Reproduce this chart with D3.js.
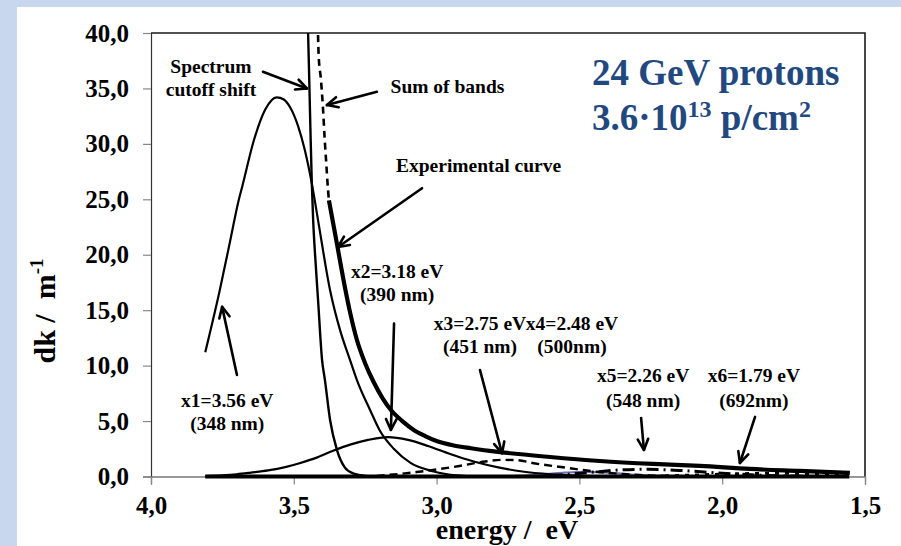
<!DOCTYPE html>
<html><head><meta charset="utf-8">
<script src="https://cdn.jsdelivr.net/npm/d3@7"></script>
<style>
html,body{margin:0;padding:0;background:#fff;overflow:hidden}
svg{display:block}
text{font-family:"Liberation Serif","Times New Roman",serif;font-weight:bold}
</style>
</head><body>
<svg id="chart" width="901" height="546"></svg>
<script>
// ---------- data (energy in eV, dk in 1/m) ----------
const xTickValues = [4.0, 3.5, 3.0, 2.5, 2.0, 1.5];
const xTickLabels = ["4,0", "3,5", "3,0", "2,5", "2,0", "1,5"];
const yTickValues = [0, 5, 10, 15, 20, 25, 30, 35, 40];
const yTickLabels = ["0,0", "5,0", "10,0", "15,0", "20,0", "25,0", "30,0", "35,0", "40,0"];

const bandX1 = [[3.81,11.2],[3.76,16.7],[3.72,21.6],[3.695,24.7],[3.68,26.2],[3.64,30.3],[3.60,33.1],[3.56,34.2],[3.535,34.0],[3.513,33.3],[3.485,31.6],[3.461,29.4],[3.436,26.3],[3.415,23.1],[3.373,16.8],[3.338,13.2],[3.303,10.5],[3.279,8.7],[3.233,6.0],[3.20,4.2],[3.15,2.5],[3.09,1.2],[3.01,0.45],[2.93,0.1],[2.85,0]];
const cutoffCurve = [[3.452,42],[3.447,37],[3.442,31.5],[3.437,26.5],[3.432,23],[3.426,20.2],[3.415,15.9],[3.401,10.5],[3.391,8.7],[3.373,5.1],[3.349,2.4],[3.321,0.8],[3.29,0.25],[3.25,0.05],[3.2,0]];
const sumOfBands = [[3.417,42],[3.413,38],[3.405,35.8],[3.398,33.3],[3.392,30.5],[3.387,28.5],[3.380,25.8],[3.376,24.6]];
const experimental = [[3.377,24.9],[3.349,21.0],[3.328,18.0],[3.303,14.8],[3.28,12.4],[3.25,10.2],[3.22,8.5],[3.19,7.1],[3.16,6.0],[3.12,5.0],[3.08,4.2],[3.04,3.65],[3.0,3.2],[2.94,2.8],[2.88,2.55],[2.778,2.2],[2.603,1.76],[2.428,1.40],[2.242,1.13],[2.078,0.95],[1.903,0.68],[1.728,0.50],[1.553,0.32]];
const bandX2 = [[3.81,0.03],[3.75,0.1],[3.70,0.2],[3.65,0.35],[3.59,0.55],[3.53,0.85],[3.48,1.2],[3.42,1.7],[3.36,2.35],[3.30,2.9],[3.24,3.3],[3.17,3.55],[3.10,3.3],[3.03,2.75],[2.95,2.0],[2.87,1.35],[2.78,0.8],[2.70,0.45],[2.60,0.2],[2.50,0.07],[2.40,0]];
const bandX3 = [[3.21,0.05],[3.07,0.4],[2.92,0.95],[2.83,1.35],[2.77,1.5],[2.72,1.48],[2.66,1.2],[2.54,0.77],[2.43,0.4],[2.29,0.13],[2.15,0.03]];
const bandX4 = [[2.75,0.02],[2.65,0.15],[2.55,0.35],[2.48,0.42],[2.40,0.35],[2.30,0.15],[2.20,0.03]];
const bandX5 = [[2.60,0.05],[2.45,0.4],[2.35,0.6],[2.26,0.65],[2.15,0.55],[2.00,0.3],[1.85,0.1],[1.70,0.02]];
const bandX6 = [[2.20,0.05],[2.00,0.2],[1.79,0.3],[1.65,0.22],[1.555,0.15]];
const zeroBands = [[3.81,0],[1.555,0]];

// annotations: [text lines], centre energy, baseline values
const labelTexts = [
  {lines:["Spectrum","cutoff shift"], e:3.79, v:[36.4,34.3]},
  {lines:["Sum of bands"], e:2.962, v:[34.6]},
  {lines:["Experimental curve"], e:2.853, v:[27.5]},
  {lines:["x2=3.18 eV","(390 nm)"], e:3.138, v:[17.9,15.8]},
  {lines:["x1=3.56 eV","(348 nm)"], e:3.733, v:[6.27,4.19]},
  {lines:["x3=2.75 eV","(451 nm)"], e:2.848, v:[13.2,11.1]},
  {lines:["x4=2.48 eV","(500nm)"], e:2.526, v:[13.2,11.1]},
  {lines:["x5=2.26 eV","(548 nm)"], e:2.277, v:[8.5,6.27]},
  {lines:["x6=1.79 eV","(692nm)"], e:1.889, v:[8.5,6.27]}
];
// arrows: from [e,v] to [e,v]
const arrowList = [
  [[3.608,36.5],[3.454,35.0]],
  [[3.209,34.7],[3.384,33.5]],
  [[3.051,26.0],[3.345,20.7]],
  [[3.149,13.8],[3.160,4.2]],
  [[3.699,9.15],[3.751,15.3]],
  [[2.848,9.6],[2.771,2.1]],
  [[2.284,5.28],[2.274,2.39]],
  [[1.885,5.37],[1.938,1.22]]
];

// ---------- drawing ----------
const svg = d3.select("#chart");
const W = 901, H = 546;
const L = 151, R = 865, T = 33, B = 476.5;

svg.append("rect").attr("width", W).attr("height", H).attr("fill", "#c8d6ee");
svg.append("rect").attr("x", 17).attr("y", 7).attr("width", W - 17).attr("height", H - 7).attr("fill", "#ffffff");

const x = d3.scaleLinear().domain([4.0, 1.5]).range([L, R]);
const y = d3.scaleLinear().domain([0, 40]).range([B, T]);

svg.append("defs").append("clipPath").attr("id", "plotclip")
  .append("rect").attr("x", L).attr("y", T).attr("width", R - L).attr("height", B - T + 3);

// frame (top + right)
svg.append("path").attr("d", `M${L},${T}H${R}V${B}`).attr("fill", "none")
  .attr("stroke", "#1a1a1a").attr("stroke-width", 1.6);

// axes
const yAxis = d3.axisLeft(y).tickValues(yTickValues).tickSize(8).tickPadding(14)
  .tickFormat((d, i) => yTickLabels[i]);
const gy = svg.append("g").attr("transform", `translate(${L},0)`).call(yAxis);
const xAxis = d3.axisBottom(x).tickValues(xTickValues).tickSize(8).tickPadding(13)
  .tickFormat((d, i) => xTickLabels[i]);
const gx = svg.append("g").attr("transform", `translate(0,${B})`).call(xAxis);
[gx, gy].forEach(g => {
  g.select(".domain").attr("stroke", "#333").attr("stroke-width", 1.2);
  g.selectAll(".tick line").attr("stroke", "#888").attr("stroke-width", 1.2);
  g.selectAll(".tick text").attr("fill", "#000").style("font-size", "25px")
    .style("font-family", '"Liberation Serif",serif').style("font-weight", "bold");
});
gx.selectAll(".tick text").attr("dy", "0.66em");

// axis titles
svg.append("text").attr("x", 507).attr("y", 539).attr("text-anchor", "middle")
  .style("font-size", "28px").style("white-space", "pre").attr("fill", "#000")
  .text("energy /  eV");
const yt = svg.append("text").attr("transform", "translate(55,311) rotate(-90)")
  .attr("text-anchor", "middle").style("font-size", "30px").style("white-space", "pre").attr("fill", "#000");
yt.append("tspan").text("dk /  m");
yt.append("tspan").attr("dy", -12).style("font-size", "19px").text("-1");

// curves
const line = d3.line().x(d => x(d[0])).y(d => y(d[1])).curve(d3.curveMonotoneX);
const plot = svg.append("g").attr("clip-path", "url(#plotclip)");
function drawCurve(data, opts) {
  plot.append("path").datum(data).attr("d", line).attr("fill", "none")
    .attr("stroke", opts.color || "#000").attr("stroke-width", opts.w || 2.2)
    .attr("stroke-dasharray", opts.dash || null)
    .attr("stroke-linejoin", "round").attr("stroke-linecap", opts.cap || "butt");
}
drawCurve(bandX4, {color: "#6d72b8", w: 2.2});
drawCurve(bandX6, {w: 3, dash: "4,6"});
drawCurve(bandX5, {w: 3, dash: "12,5,2,5"});
drawCurve(zeroBands, {w: 4});
drawCurve(bandX3, {w: 2.4, dash: "8,5"});
drawCurve(bandX2, {w: 2.2});
drawCurve(bandX1, {w: 2.2});
drawCurve(cutoffCurve, {w: 2.4});
drawCurve(sumOfBands, {w: 2.6, dash: "7,5"});
drawCurve(experimental, {w: 4.2});

// annotation texts
labelTexts.forEach(a => {
  a.lines.forEach((t, i) => {
    svg.append("text").attr("x", x(a.e)).attr("y", y(a.v[i])).attr("text-anchor", "middle")
      .style("font-size", "19.5px").attr("fill", "#000").text(t);
  });
});

// arrows
function arrow(p, q) {
  const x1 = x(p[0]), y1 = y(p[1]), x2 = x(q[0]), y2 = y(q[1]);
  const ang = Math.atan2(y2 - y1, x2 - x1), hl = 12, ha = 0.45;
  const g = svg.append("g").attr("stroke", "#000").attr("stroke-width", 2.6)
    .attr("fill", "none").attr("stroke-linecap", "round").attr("stroke-linejoin", "round");
  g.append("line").attr("x1", x1).attr("y1", y1).attr("x2", x2).attr("y2", y2);
  g.append("path").attr("d",
    `M${x2 - hl * Math.cos(ang - ha)},${y2 - hl * Math.sin(ang - ha)}L${x2},${y2}L${x2 - hl * Math.cos(ang + ha)},${y2 - hl * Math.sin(ang + ha)}`);
}
arrowList.forEach(a => arrow(a[0], a[1]));

// title block
const blue = "#22497f";
svg.append("text").attr("x", 592).attr("y", 85).style("font-size", "37px").attr("fill", blue)
  .text("24 GeV protons");
const t2 = svg.append("text").attr("x", 592).attr("y", 130).style("font-size", "37px").attr("fill", blue);
t2.append("tspan").text("3.6·10");
t2.append("tspan").attr("dy", -13).style("font-size", "24px").text("13");
t2.append("tspan").attr("dy", 13).text(" p/cm");
t2.append("tspan").attr("dy", -13).style("font-size", "24px").text("2");
</script>
</body></html>
